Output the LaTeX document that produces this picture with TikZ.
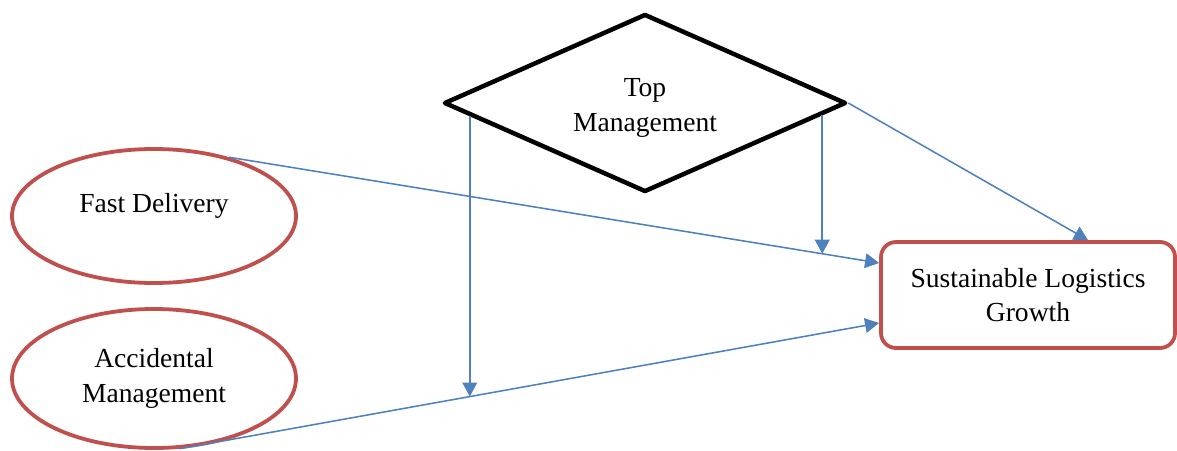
\documentclass[tikz,border=0pt]{standalone}
\usepackage{fontspec}
\setmainfont{Liberation Serif}
\usetikzlibrary{shapes.geometric,arrows.meta,calc,intersections}
\definecolor{factorred}{HTML}{C0504D}
\definecolor{linkblue}{HTML}{4F81BD}

\begin{document}
\begin{tikzpicture}[
    every node/.style={font=\fontsize{19.6}{24.5}\selectfont, align=center},
    factor/.style={ellipse, draw=factorred, line width=2.7pt, minimum width=7.1cm},
    link/.style={draw=linkblue, line width=1.1pt, -{Triangle[length=10pt,width=10.5pt]}}
  ]
    \useasboundingbox (0,0) rectangle (29.425,11.25);

    \node[diamond, draw, line width=3.2pt, line join=round, aspect=2.26, inner sep=0pt, text height=44.5pt, minimum width=10.05cm, minimum height=4.45cm] (top) at (16.125,8.675) {Top\\Management};

    \node[factor, minimum height=3.35cm, text depth=18pt] (fast) at (3.85,5.85) {Fast Delivery};
    \node[factor, minimum height=3.475cm] (accident) at (3.85,1.7875) {Accidental\\Management};

    \node[draw=factorred, line width=2.7pt, rounded corners=0.375cm, minimum width=7.35cm, minimum height=2.65cm] (growth) at (25.7,3.875) {Sustainable Logistics\\Growth};

    \draw[link, name path=fastlink] (fast.38) -- ([yshift=0.8cm]growth.west);
    \draw[link, name path=accidentlink] (accident.-70) -- ([yshift=-0.7cm]growth.west);
    \draw[link] (top.east) -- ([xshift=1.5cm]growth.north);

    \path[name path=dropleft] ($(top.west)!0.138!(top.south)$) coordinate (dl) -- ++(0,-9);
    \path[name path=dropright] ($(top.east)!0.128!(top.south)$) coordinate (dr) -- ++(0,-9);
    \draw[link, name intersections={of=dropleft and accidentlink, by=hl}] (dl) -- (hl);
    \draw[link, name intersections={of=dropright and fastlink, by=hr}] (dr) -- (hr);
\end{tikzpicture}
\end{document}
